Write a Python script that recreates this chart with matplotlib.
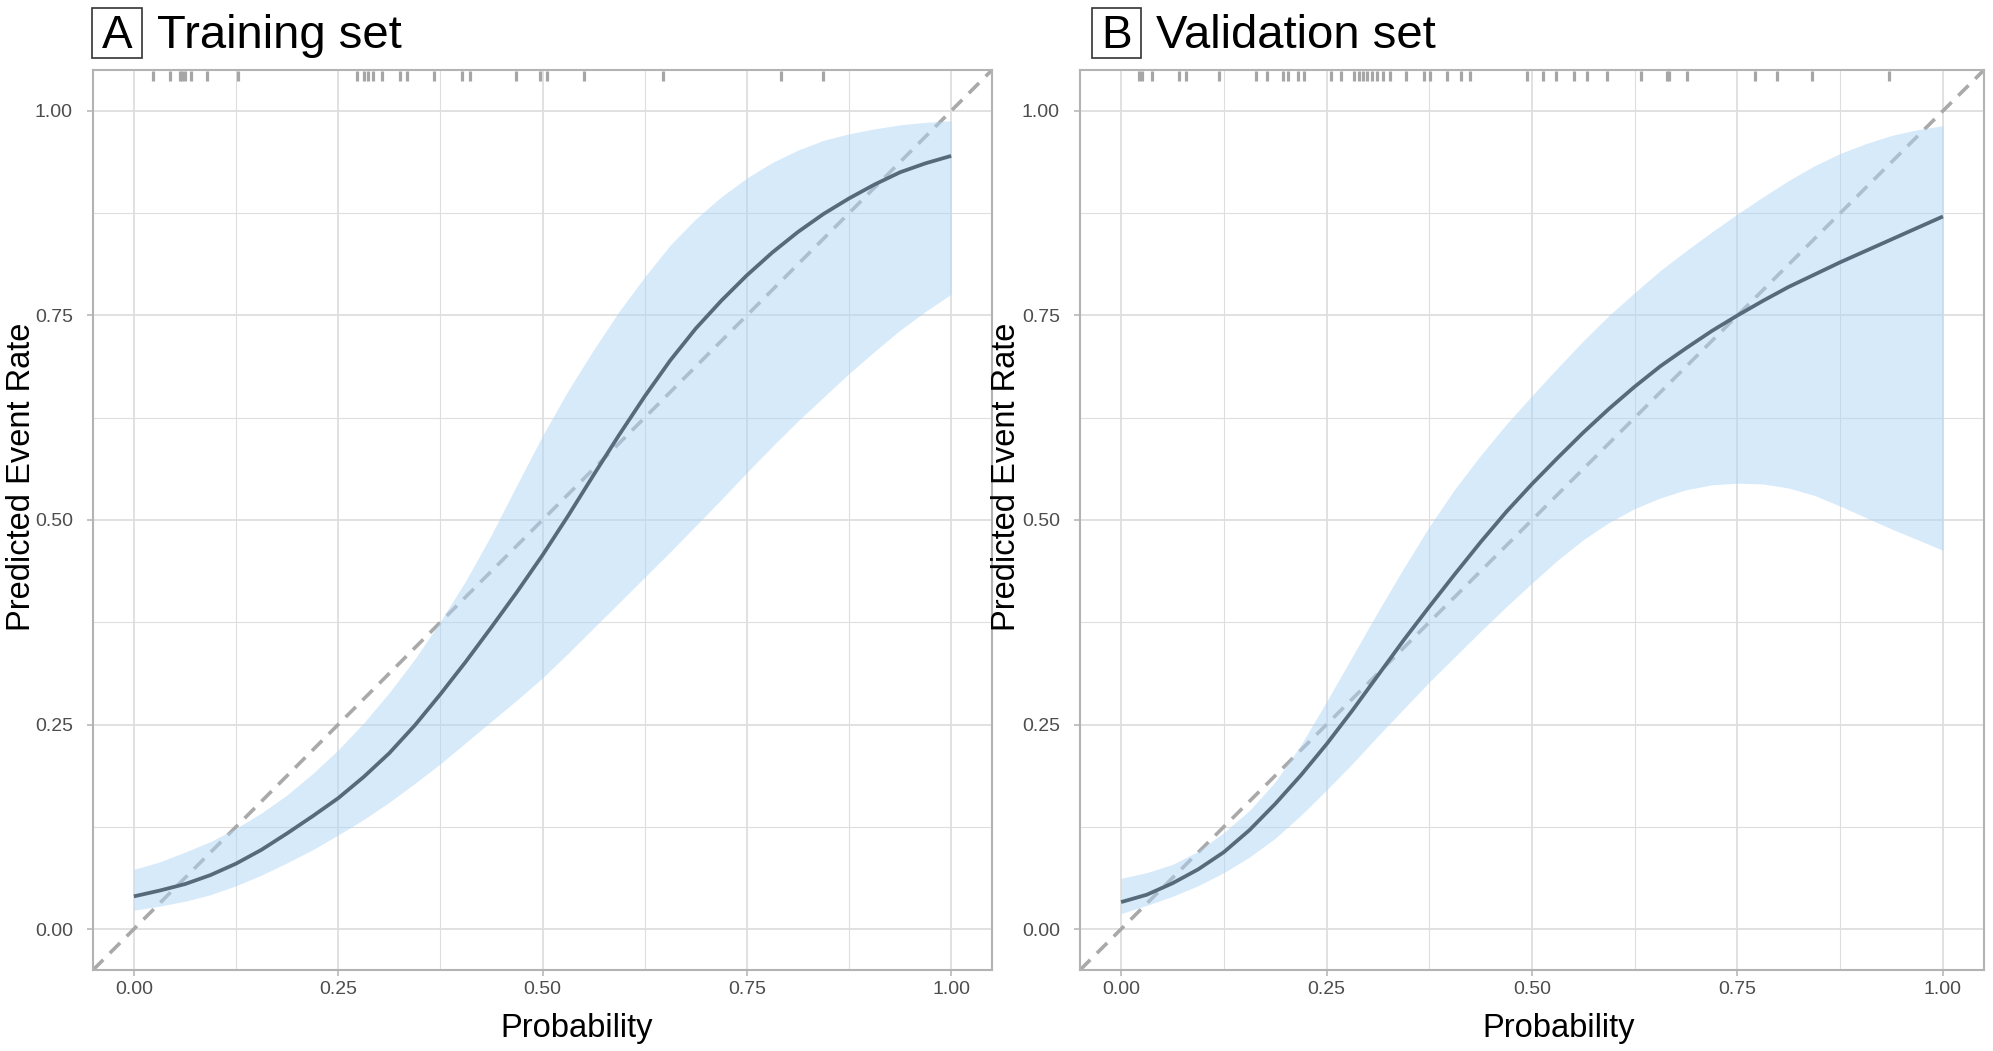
import matplotlib
matplotlib.use("Agg")
import matplotlib.pyplot as plt
from matplotlib.patches import Rectangle

plt.rcParams['font.family'] = ['Liberation Sans', 'DejaVu Sans']

# ---------------- data ----------------
x_grid = [i / 32 for i in range(33)]  # probability positions where values were read

train_fit = [0.040, 0.047, 0.055, 0.066, 0.080, 0.097, 0.117, 0.138, 0.160,
             0.186, 0.215, 0.249, 0.287, 0.327, 0.369, 0.412, 0.457, 0.505,
             0.555, 0.604, 0.651, 0.695, 0.734, 0.768, 0.799, 0.827, 0.852,
             0.874, 0.893, 0.910, 0.925, 0.936, 0.945]
train_upper = [0.073, 0.082, 0.094, 0.107, 0.123, 0.142, 0.164, 0.190, 0.219,
               0.252, 0.289, 0.330, 0.376, 0.426, 0.482, 0.543, 0.603, 0.658,
               0.708, 0.755, 0.797, 0.836, 0.868, 0.895, 0.918, 0.937, 0.952,
               0.964, 0.972, 0.978, 0.983, 0.986, 0.988]
train_lower = [0.023, 0.028, 0.034, 0.042, 0.053, 0.066, 0.081, 0.097, 0.115,
               0.134, 0.155, 0.178, 0.202, 0.228, 0.254, 0.280, 0.307, 0.337,
               0.368, 0.399, 0.430, 0.461, 0.493, 0.525, 0.558, 0.590, 0.621,
               0.650, 0.679, 0.706, 0.732, 0.755, 0.776]

valid_fit = [0.033, 0.042, 0.056, 0.073, 0.094, 0.121, 0.153, 0.188, 0.226,
             0.267, 0.310, 0.353, 0.394, 0.434, 0.473, 0.510, 0.544, 0.576,
             0.607, 0.636, 0.663, 0.688, 0.710, 0.731, 0.750, 0.768, 0.785,
             0.800, 0.815, 0.829, 0.843, 0.857, 0.871]
valid_upper = [0.062, 0.069, 0.079, 0.095, 0.118, 0.145, 0.180, 0.225, 0.278,
               0.333, 0.388, 0.441, 0.492, 0.538, 0.579, 0.617, 0.652, 0.686,
               0.719, 0.750, 0.778, 0.805, 0.829, 0.852, 0.874, 0.895, 0.915,
               0.933, 0.948, 0.960, 0.970, 0.977, 0.982]
valid_lower = [0.019, 0.029, 0.040, 0.053, 0.069, 0.088, 0.111, 0.139, 0.170,
               0.202, 0.236, 0.269, 0.302, 0.333, 0.364, 0.394, 0.423, 0.451,
               0.476, 0.497, 0.514, 0.527, 0.537, 0.543, 0.545, 0.544, 0.539,
               0.530, 0.517, 0.503, 0.489, 0.476, 0.463]

train_rug = [0.024, 0.044, 0.056, 0.059, 0.063, 0.070, 0.089, 0.128, 0.273,
             0.281, 0.286, 0.293, 0.304, 0.326, 0.334, 0.367, 0.401, 0.411,
             0.467, 0.497, 0.506, 0.551, 0.647, 0.792, 0.843]
valid_rug = [0.022, 0.026, 0.038, 0.071, 0.079, 0.119, 0.164, 0.178, 0.197,
             0.203, 0.215, 0.223, 0.256, 0.268, 0.284, 0.290, 0.294, 0.299,
             0.305, 0.311, 0.319, 0.327, 0.347, 0.368, 0.376, 0.396, 0.413,
             0.425, 0.494, 0.513, 0.529, 0.551, 0.567, 0.591, 0.633, 0.664,
             0.667, 0.688, 0.771, 0.798, 0.841, 0.935]

tick_vals = [0.0, 0.25, 0.5, 0.75, 1.0]
tick_labels = ["0.00", "0.25", "0.50", "0.75", "1.00"]
minor_vals = [0.125, 0.375, 0.625, 0.875]

panel_letters = ["A", "B"]
panel_titles = ["Training set", "Validation set"]
x_label = "Probability"
y_label = "Predicted Event Rate"

# ---------------- styling ----------------
W, H = 1993, 1051
fig = plt.figure(figsize=(W / 100, H / 100), dpi=100)

BAND = '#aed6f7'
LINE = '#566a7b'
DASH = '#a9a9a9'
GRID = '#dedede'
SPINE = '#b3b3b3'
TXT = '#4d4d4d'


def px_to_fig(x0, y0, x1, y1):
    # pixel box (from top-left) -> fig fraction rect
    return [x0 / W, 1 - y1 / H, (x1 - x0) / W, (y1 - y0) / H]


axes_boxes = [px_to_fig(93, 70, 992, 970), px_to_fig(1080, 70, 1984, 970)]
fits = [(train_fit, train_lower, train_upper), (valid_fit, valid_lower, valid_upper)]
rugs = [train_rug, valid_rug]
letter_box_px = [(92, 8, 142, 58), (1092, 8, 1141, 58)]
title_x_px = [157, 1156]
ylabel_x_px = [22, 1007]
xlabel_x_px = [577, 1559]

for i in range(2):
    ax = fig.add_axes(axes_boxes[i])
    fit, lo, up = fits[i]
    ax.set_xlim(-0.05, 1.05)
    ax.set_ylim(-0.05, 1.05)

    # grid
    for v in minor_vals:
        ax.axvline(v, color=GRID, lw=0.8, zorder=0)
        ax.axhline(v, color=GRID, lw=0.8, zorder=0)
    for v in tick_vals:
        ax.axvline(v, color=GRID, lw=1.3, zorder=0)
        ax.axhline(v, color=GRID, lw=1.3, zorder=0)

    # diagonal reference
    ax.plot([-0.05, 1.05], [-0.05, 1.05], color=DASH, lw=2.6,
            dashes=(4, 2.6), zorder=1)
    # confidence band
    ax.fill_between(x_grid, lo, up, color=BAND, alpha=0.5, lw=0, zorder=2)
    # fitted curve
    ax.plot(x_grid, fit, color=LINE, lw=2.7, zorder=3,
            solid_capstyle='butt', solid_joinstyle='round')

    # rug at top
    ax.vlines(rugs[i], 1.05 - 0.0135, 1.05 - 0.0015, colors='#a6a6a6',
              lw=2.3, zorder=4)

    ax.set_xticks(tick_vals)
    ax.set_xticklabels(tick_labels)
    ax.set_yticks(tick_vals)
    ax.set_yticklabels(tick_labels)
    ax.tick_params(axis='both', colors=SPINE, labelcolor=TXT, labelsize=14,
                   length=4.5, width=1.1)
    ax.tick_params(axis='x', pad=3.5)
    ax.tick_params(axis='y', pad=10)
    for s in ax.spines.values():
        s.set_color(SPINE)
        s.set_linewidth(1.5)
    ax.set_facecolor('white')

    # titles
    bx0, by0, bx1, by1 = letter_box_px[i]
    fig.patches.append(Rectangle((bx0 / W, 1 - by1 / H), (bx1 - bx0) / W,
                                 (by1 - by0) / H, transform=fig.transFigure,
                                 fill=False, edgecolor='#333333', lw=1.2))
    fig.text(((bx0 + bx1) / 2) / W, 1 - 48 / H, panel_letters[i], ha='center',
             va='baseline', fontsize=33, color='black')
    fig.text(title_x_px[i] / W, 1 - 48 / H, panel_titles[i], ha='left',
             va='baseline', fontsize=34, color='black')

    # axis labels
    fig.text(ylabel_x_px[i] / W, 1 - 477 / H, y_label, rotation=90,
             ha='center', va='center', fontsize=23.5, color='black')
    fig.text(xlabel_x_px[i] / W, 1 - 1029 / H, x_label, ha='center',
             va='center', fontsize=23.5, color='black')

fig.savefig('out.png', dpi=100, facecolor='white')
